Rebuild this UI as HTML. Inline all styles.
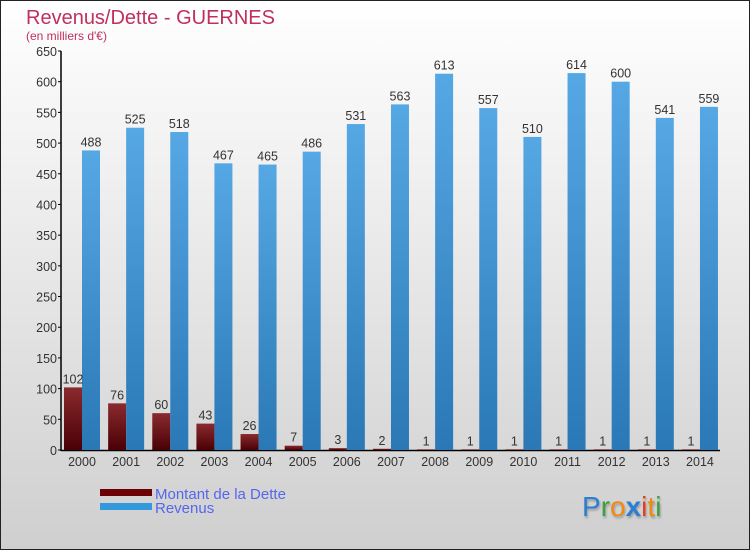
<!DOCTYPE html>
<html><head><meta charset="utf-8"><style>
body{margin:0;width:750px;height:550px;overflow:hidden}
svg{display:block;font-family:"Liberation Sans",sans-serif}
</style></head><body>
<svg id="chart" width="750" height="550" xmlns="http://www.w3.org/2000/svg">
<defs>
<linearGradient id="bg" x1="0" y1="0" x2="0" y2="1"><stop offset="0" stop-color="#ffffff"/><stop offset="1" stop-color="#cfcfcf"/></linearGradient>
<linearGradient id="gd" x1="0" y1="0" x2="0" y2="1"><stop offset="0" stop-color="#8a2a2e"/><stop offset="1" stop-color="#4a0005"/></linearGradient>
<linearGradient id="gr" x1="0" y1="0" x2="0" y2="1"><stop offset="0" stop-color="#56a8e4"/><stop offset="1" stop-color="#2a78b6"/></linearGradient>
</defs>
<rect x="0.5" y="0.5" width="749" height="549" fill="url(#bg)" stroke="#222"/>
<text x="26" y="24" font-size="20" fill="#c0305c">Revenus/Dette - GUERNES</text>
<text x="26" y="40" font-size="12" fill="#c0305c">(en milliers d'€)</text>
<g id="axes"></g><g id="bars"></g>
<rect x="100" y="489" width="52" height="7" fill="#6b0005"/>
<rect x="100" y="503" width="52" height="7" fill="#3399dd"/>
<text x="155" y="499" font-size="15" fill="#5566ee">Montant de la Dette</text>
<text x="155" y="513" font-size="15" fill="#5566ee">Revenus</text>
<text x="582" y="516" font-size="28" style="text-shadow:1px 2px 2px #999"><tspan fill="#2a7fd4">P</tspan><tspan fill="#3aa040">r</tspan><tspan fill="#f08a10">o</tspan><tspan fill="#2a7fd4" font-weight="bold">x</tspan><tspan fill="#e04020">i</tspan><tspan fill="#f08a10">t</tspan><tspan fill="#3aa040">i</tspan></text>
</svg>
<script>
const years=["2000","2001","2002","2003","2004","2005","2006","2007","2008","2009","2010","2011","2012","2013","2014"];
const dette=[102,76,60,43,26,7,3,2,1,1,1,1,1,1,1];
const revenus=[488,525,518,467,465,486,531,563,613,557,510,614,600,541,559];
const yTicks=[0,50,100,150,200,250,300,350,400,450,500,550,600,650];
const NS="http://www.w3.org/2000/svg";
const y=v=>450-v*(399/650);
const xc=i=>82+i*44.14;
function mk(t,a,p){const e=document.createElementNS(NS,t);for(const k in a)e.setAttribute(k,a[k]);p.appendChild(e);return e;}
const ax=document.getElementById('axes'),bg=document.getElementById('bars');
let l=mk('line',{x1:61,y1:51,x2:61,y2:451,stroke:'#000','stroke-width':1.5},ax);


l=mk('line',{x1:61,y1:450.5,x2:720,y2:450.5,stroke:'#000','stroke-width':1.5},ax);


yTicks.forEach(v=>{
 mk('line',{x1:58,x2:61,y1:y(v),y2:y(v),stroke:'#000'},ax);
 const t=mk('text',{x:57,y:y(v)+5,'text-anchor':'end','font-size':12.5,fill:'#333'},ax);t.textContent=v;
 
 
});
years.forEach((yr,i)=>{
 const c=xc(i);
 const t=mk('text',{x:c,y:466,'text-anchor':'middle','font-size':12.5,fill:'#333'},ax);t.textContent=yr;
 
 
 let r=mk('rect',{x:c-18,y:y(dette[i]),width:18,height:450-y(dette[i]),fill:'url(#gd)'},bg);
 
 
 r=mk('rect',{x:c,y:y(revenus[i]),width:18,height:450-y(revenus[i]),fill:'url(#gr)'},bg);
 
 
 let v=mk('text',{x:c-9,y:y(dette[i])-4,'text-anchor':'middle','font-size':12.5,fill:'#333'},bg);v.textContent=dette[i];
 
 
 v=mk('text',{x:c+9,y:y(revenus[i])-4,'text-anchor':'middle','font-size':12.5,fill:'#333'},bg);v.textContent=revenus[i];
 
 
});
</script>
</body></html>
